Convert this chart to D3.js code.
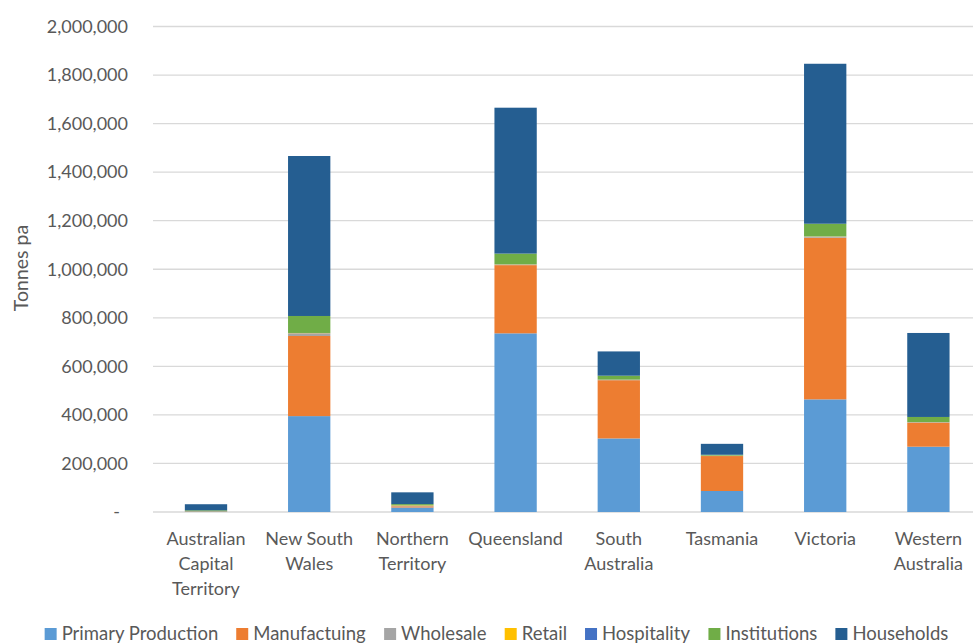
<!DOCTYPE html>
<html>
<head>
<meta charset="utf-8">
<script src="https://cdn.jsdelivr.net/npm/d3@7"></script>
<style>
  html, body { margin: 0; padding: 0; background: #fff; }
  svg { display: block; font-family: Lato, "Open Sans", sans-serif; }
</style>
</head>
<body>
<svg id="chart" width="973" height="644"></svg>
<script>
// ---- data ----
const categories = [
  "Australian Capital Territory", "New South Wales", "Northern Territory", "Queensland",
  "South Australia", "Tasmania", "Victoria", "Western Australia"
];
const categoryLines = [
  ["Australian", "Capital", "Territory"], ["New South", "Wales"], ["Northern", "Territory"], ["Queensland"],
  ["South", "Australia"], ["Tasmania"], ["Victoria"], ["Western", "Australia"]
];
const seriesNames = ["Primary Production", "Manufactuing", "Wholesale", "Retail", "Hospitality", "Institutions", "Households"];
const primaryProduction = [1500, 395000, 18500, 736000, 303000, 86500, 464000, 269000];
const manufacturing     = [1000, 330000, 5000, 281000, 240000, 144000, 666000, 99000];
const wholesale         = [500, 11000, 1500, 2000, 1500, 1000, 4000, 1500];
const retail            = [300, 1000, 2000, 1000, 500, 500, 1000, 500];
const hospitality       = [200, 500, 500, 500, 500, 300, 500, 500];
const institutions      = [3500, 70000, 5000, 44000, 16000, 3500, 52000, 21000];
const households        = [25000, 659000, 48500, 601000, 100000, 45000, 659000, 346000];
const yTicks = [0, 200000, 400000, 600000, 800000, 1000000, 1200000, 1400000, 1600000, 1800000, 2000000];
const yTitle = "Tonnes pa";
const colors = ["#5B9BD5", "#ED7D31", "#A5A5A5", "#FFC000", "#4472C4", "#70AD47", "#255E91"];

// ---- build table ----
const seriesValues = [primaryProduction, manufacturing, wholesale, retail, hospitality, institutions, households];
const table = categories.map((c, i) => {
  const row = { category: c };
  seriesNames.forEach((s, j) => row[s] = seriesValues[j][i]);
  return row;
});
const stacked = d3.stack().keys(seriesNames)(table);

// ---- layout ----
const svg = d3.select("#chart");
const plotLeft = 154.4, plotRight = 980, plotTop = 26.5, plotBottom = 512;

const x = d3.scaleBand().domain(categories).range([plotLeft, plotRight])
  .paddingInner(0.59).paddingOuter(0.295);
const y = d3.scaleLinear().domain([0, 2000000]).range([plotBottom, plotTop]);
const color = d3.scaleOrdinal().domain(seriesNames).range(colors);

// gridlines
svg.append("g").selectAll("line").data(yTicks).join("line")
  .attr("x1", 153).attr("x2", 973)
  .attr("y1", d => y(d)).attr("y2", d => y(d))
  .attr("stroke", "#D9D9D9").attr("stroke-width", 1.3);

// y axis labels
const fmt = d3.format(",");
svg.append("g").selectAll("text").data(yTicks).join("text")
  .attr("x", d => d === 0 ? 120 : 128)
  .attr("y", d => y(d))
  .attr("dy", "0.35em")
  .attr("text-anchor", "end")
  .attr("font-size", 18)
  .attr("fill", "#595959")
  .text(d => d === 0 ? "-" : fmt(d));

// y title
svg.append("text")
  .attr("transform", "translate(28,268) rotate(-90)")
  .attr("text-anchor", "middle")
  .attr("font-size", 19.5)
  .attr("fill", "#595959")
  .text(yTitle);

// bars
svg.append("g").selectAll("g").data(stacked).join("g")
  .attr("fill", d => color(d.key))
  .selectAll("rect").data(d => d).join("rect")
  .attr("x", d => x(d.data.category))
  .attr("width", x.bandwidth())
  .attr("y", d => y(d[1]))
  .attr("height", d => Math.max(0, y(d[0]) - y(d[1])));

// x labels
const xl = svg.append("g").selectAll("text").data(categories).join("text")
  .attr("x", d => x(d) + x.bandwidth() / 2)
  .attr("y", 545)
  .attr("text-anchor", "middle")
  .attr("font-size", 18)
  .attr("fill", "#595959");
xl.each(function(d, i) {
  d3.select(this).selectAll("tspan").data(categoryLines[i]).join("tspan")
    .attr("x", x(d) + x.bandwidth() / 2)
    .attr("dy", (t, k) => k === 0 ? 0 : 25)
    .text(t => t);
});

// legend
const lg = svg.append("g");
const items = lg.selectAll("g").data(seriesNames).join("g");
items.append("rect").attr("width", 12).attr("height", 12).attr("y", -6)
  .attr("fill", d => color(d));
items.append("text").attr("x", 17).attr("dy", "0.35em")
  .attr("font-size", 18.5).attr("fill", "#595959").text(d => d);
let cx = 0;
const gap = 18;
items.each(function() {
  const w = this.getBBox().width;
  d3.select(this).attr("transform", `translate(${cx},634)`);
  cx += w + gap;
});
const total = cx - gap;
lg.attr("transform", `translate(${496.5 - total / 2},0)`);
</script>
</body>
</html>
